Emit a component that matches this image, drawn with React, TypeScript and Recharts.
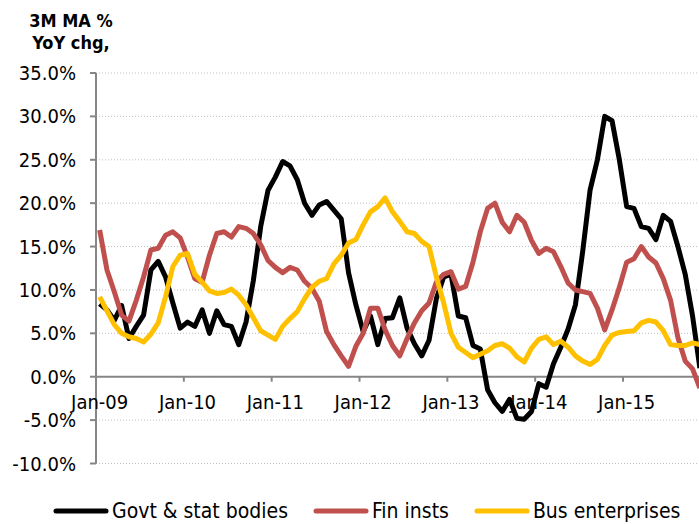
import { LineChart, Line, XAxis, YAxis, CartesianGrid, ReferenceLine } from "recharts";

// monthly, Jan-09 .. Nov-15 (3M MA % YoY chg)
const govt = [
  8.4, 7.7, 6.5, 8.2, 4.4, 5.8, 7.1, 12.3, 13.3, 11.5, 8.5, 5.6,
  6.3, 5.8, 7.7, 5.0, 7.6, 6.0, 5.8, 3.7, 6.3, 11.1, 17.3, 21.5,
  23.0, 24.8, 24.3, 22.7, 20.0, 18.6, 19.8, 20.2, 19.2, 18.2, 12.0, 8.3,
  5.2, 7.0, 3.7, 6.7, 6.8, 9.1, 5.6, 3.8, 2.4, 4.2, 9.0, 11.5,
  11.8, 7.0, 6.8, 3.6, 3.2, -1.5, -3.0, -4.0, -2.6, -4.8, -4.9, -4.0,
  -0.8, -1.2, 1.5, 3.4, 5.5, 8.3, 14.5, 21.5, 25.0, 30.0, 29.5, 25.0,
  19.6, 19.4, 17.3, 17.1, 15.8, 18.6, 17.9, 15.0, 11.8, 7.0, 1.0,
];

const finInsts = [
  16.9, 12.3, 9.8, 7.1, 6.4, 8.8, 11.5, 14.6, 14.8, 16.3, 16.7, 16.0,
  13.8, 11.3, 10.9, 14.0, 16.5, 16.7, 16.1, 17.3, 17.1, 16.5, 15.2, 13.4,
  12.6, 12.0, 12.6, 12.3, 11.0, 10.2, 8.7, 5.2, 3.7, 2.4, 1.2, 3.5,
  5.0, 7.9, 7.9, 5.4, 3.6, 2.4, 4.4, 6.2, 7.6, 8.5, 10.9, 11.8,
  12.1, 10.1, 10.4, 13.2, 16.7, 19.4, 20.0, 17.8, 16.7, 18.6, 17.8, 15.7,
  14.2, 14.8, 14.4, 12.7, 10.8, 10.0, 9.8, 9.6, 7.9, 5.4, 7.7, 10.3,
  13.2, 13.6, 15.0, 13.8, 13.1, 11.3, 8.8, 4.5, 1.8, 0.9, -1.3,
];

const busEnterprises = [
  9.2, 7.6, 6.0, 5.0, 4.6, 4.4, 4.0, 4.9, 6.2, 9.2, 12.7, 14.0,
  14.2, 11.8, 10.9, 9.9, 9.6, 9.7, 10.1, 9.4, 8.3, 6.8, 5.3, 4.8,
  4.3, 5.8, 6.7, 7.5, 9.0, 10.3, 11.0, 11.3, 13.0, 14.0, 15.4, 15.8,
  17.5, 19.0, 19.6, 20.6, 19.0, 17.9, 16.7, 16.5, 15.6, 15.0, 11.5, 8.5,
  5.0, 3.4, 2.8, 2.2, 2.6, 3.0, 3.6, 3.8, 3.3, 2.3, 1.7, 3.3,
  4.3, 4.6, 3.7, 4.1, 3.4, 2.4, 1.8, 1.4, 2.0, 3.6, 4.8, 5.1,
  5.2, 5.3, 6.2, 6.5, 6.3, 5.3, 3.7, 3.6, 3.6, 3.9, 3.7,
];

const yearTicks = [0, 12, 24, 36, 48, 60, 72];
const tickLabels = ["Jan-09", "Jan-10", "Jan-11", "Jan-12", "Jan-13", "Jan-14", "Jan-15"];
const yTicks = [-10, -5, 0, 5, 10, 15, 20, 25, 30, 35];

const series = [
  { key: "govt", name: "Govt & stat bodies", color: "#000000" },
  { key: "fin", name: "Fin insts", color: "#C0504D" },
  { key: "bus", name: "Bus enterprises", color: "#FFC000" },
];

const data = govt.map((g, i) => ({
  idx: i,
  govt: g,
  fin: finInsts[i],
  bus: busEnterprises[i],
}));

const FONT = "'DejaVu Sans Condensed', 'DejaVu Sans', sans-serif";
const W = 699;
const H = 524;
const MARGIN = { top: 73, right: 0, bottom: 30.5, left: 0 };
const X_AXIS_H = 30;
const Y_AXIS_W = 96;
const Y_MIN = -10;
const Y_MAX = 35;
const X_MIN = -0.5;
const X_MAX = 81.88;

const plotH = H - MARGIN.top - MARGIN.bottom - X_AXIS_H;
const zeroY = MARGIN.top + (Y_MAX / (Y_MAX - Y_MIN)) * plotH;
const monthW = (W - Y_AXIS_W - MARGIN.right) / (X_MAX - X_MIN);

function MonthTick(props: any) {
  const { x, payload } = props;
  const label = tickLabels[yearTicks.indexOf(payload.value)];
  const tx = x - monthW / 2;
  return (
    <g>
      <line x1={tx} x2={tx} y1={zeroY} y2={zeroY + 5} stroke="#868686" strokeWidth={2} />
      <text
        x={x}
        y={zeroY + 25}
        dy="0.355em"
        textAnchor="middle"
        fill="#000"
        fontSize={20}
        fontFamily={FONT}
      >
        {label}
      </text>
    </g>
  );
}

export default function App() {
  return (
    <div style={{ position: "absolute", left: 0, top: 0, width: W, height: H, background: "#fff" }}>
      <div
        style={{
          position: "absolute",
          left: 0,
          top: 10,
          width: 142,
          textAlign: "center",
          fontFamily: FONT,
          fontWeight: "bold",
          fontSize: 18,
          lineHeight: "22px",
          color: "#000",
        }}
      >
        3M MA %
        <br />
        YoY chg,
      </div>

      <LineChart width={W} height={H} data={data} margin={MARGIN}>
        <CartesianGrid vertical={false} stroke="#BFBFBF" strokeDasharray="1 2" />
        <XAxis
          dataKey="idx"
          type="number"
          domain={[X_MIN, X_MAX]}
          allowDataOverflow
          ticks={yearTicks}
          height={X_AXIS_H}
          axisLine={false}
          tickLine={false}
          tick={<MonthTick />}
          interval={0}
        />
        <YAxis
          type="number"
          domain={[Y_MIN, Y_MAX]}
          ticks={yTicks}
          width={Y_AXIS_W}
          interval={0}
          tickSize={6}
          tickMargin={14}
          tickFormatter={(v: number) => `${v.toFixed(1)}%`}
          axisLine={{ stroke: "#868686", strokeWidth: 2 }}
          tickLine={{ stroke: "#868686", strokeWidth: 2 }}
          tick={{ fill: "#000", fontSize: 20, fontFamily: FONT }}
        />
        <ReferenceLine y={0} stroke="#868686" strokeWidth={2} />
        {series.map((s) => (
          <Line
            key={s.key}
            type="linear"
            dataKey={s.key}
            name={s.name}
            stroke={s.color}
            strokeWidth={5}
            strokeLinejoin="round"
            dot={false}
            isAnimationActive={false}
          />
        ))}
      </LineChart>

      <div
        style={{
          position: "absolute",
          left: 53,
          top: 499,
          display: "flex",
          alignItems: "center",
          gap: 25,
          fontFamily: FONT,
          fontSize: 21,
          lineHeight: "24px",
          color: "#000",
          whiteSpace: "nowrap",
        }}
      >
        {series.map((s) => (
          <div key={s.key} style={{ display: "flex", alignItems: "center" }}>
            <svg width={56} height={10} style={{ marginRight: 3 }}>
              <line x1={3} x2={53} y1={5} y2={5} stroke={s.color} strokeWidth={5} strokeLinecap="round" />
            </svg>
            <span>{s.name}</span>
          </div>
        ))}
      </div>
    </div>
  );
}
